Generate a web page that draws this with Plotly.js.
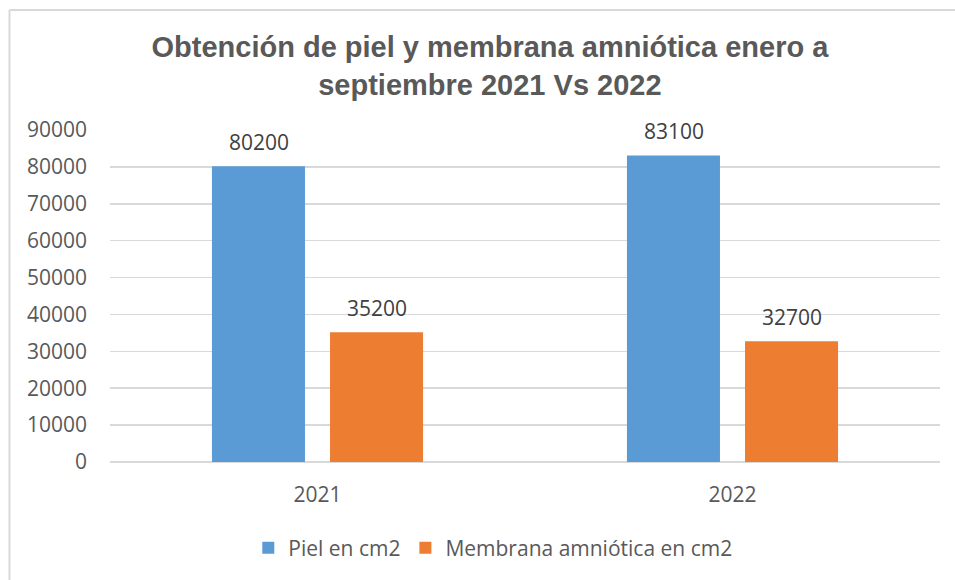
<!DOCTYPE html>
<html>
<head>
<meta charset="utf-8">
<script src="https://cdn.plot.ly/plotly-3.0.1.min.js"></script>
<style>html,body{margin:0;padding:0;background:#fff;}#chart{width:955px;height:580px;}</style>
</head>
<body>
<div id="chart"></div>
<script>
const categories = ["2021", "2022"];
const pielValues = [80200, 83100];
const membranaValues = [35200, 32700];
const seriesNames = ["Piel en cm2", "Membrana amniótica en cm2"];
const yTickValues = [0, 10000, 20000, 30000, 40000, 50000, 60000, 70000, 80000, 90000];
const titleText = "Obtención de piel y membrana amniótica enero a<br>septiembre 2021 Vs 2022";

const colors = ["#5b9bd5", "#ed7d31"];
const series = [pielValues, membranaValues];

const traces = series.map((vals, i) => ({
  type: "bar",
  x: categories,
  y: vals,
  name: seriesNames[i],
  marker: {color: colors[i]},
  hoverinfo: "none"
}));

// data labels as annotations above each bar (x given as category index)
const annotations = [];
series.forEach((vals, i) => {
  vals.forEach((v, j) => {
    annotations.push({
      x: j, y: v, xref: "x", yref: "y",
      text: String(v), showarrow: false,
      xshift: (i === 0 ? -59 : 59), yshift: 24,
      yanchor: "middle",
      font: {family: "Open Sans", size: 21, color: "#404040"}
    });
  });
});

const layout = {
  width: 955, height: 580,
  margin: {l: 110, r: 15, t: 130, b: 118},
  paper_bgcolor: "#ffffff", plot_bgcolor: "#ffffff",
  title: {
    text: titleText,
    font: {family: "Liberation Sans", size: 29, color: "#595959", weight: "bold"},
    x: 0.513, xref: "container", xanchor: "center",
    y: 1 - 57/580, yref: "container", yanchor: "middle"
  },
  barmode: "group",
  bargap: 0.431,
  bargroupgap: 0.212,
  xaxis: {
    type: "category",
    range: [-0.5, 1.5],
    showgrid: false, showline: false, zeroline: false,
    ticks: "", ticklabelstandoff: 18,
    tickfont: {family: "Open Sans", size: 21, color: "#595959"}
  },
  yaxis: {
    range: [0, 90000],
    tickvals: yTickValues,
    ticktext: yTickValues.map(String),
    showgrid: true, gridcolor: "#d9d9d9", gridwidth: 1.5,
    zeroline: true, zerolinecolor: "#d9d9d9", zerolinewidth: 1.5,
    showline: false, ticks: "", ticklabelstandoff: 22,
    tickfont: {family: "Open Sans", size: 21, color: "#595959"}
  },
  showlegend: true,
  legend: {
    orientation: "h",
    xref: "container", yref: "container",
    x: 0.516, xanchor: "center",
    y: 1 - 548/580, yanchor: "middle",
    font: {family: "Open Sans", size: 21, color: "#595959"},
    itemwidth: 30
  },
  annotations: annotations,
  shapes: [
    {type: "line", xref: "paper", yref: "paper",
     x0: (9.5 - 110)/830, x1: (9.5 - 110)/830, y0: (462 - 10)/332, y1: (462 - 600)/332,
     line: {color: "#d9d9d9", width: 2}},
    {type: "line", xref: "paper", yref: "paper",
     x0: (9.5 - 110)/830, x1: (980 - 110)/830, y0: (462 - 10)/332, y1: (462 - 10)/332,
     line: {color: "#d9d9d9", width: 2}}
  ]
};

Plotly.newPlot("chart", traces, layout, {displayModeBar: false, staticPlot: true});
</script>
</body>
</html>
